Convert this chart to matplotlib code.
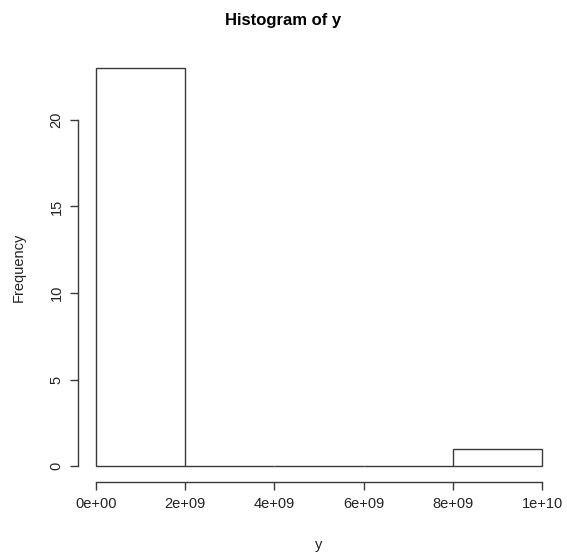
import matplotlib
matplotlib.use("Agg")
import matplotlib.pyplot as plt

bin_edges = [0, 2e9, 4e9, 6e9, 8e9, 1e10]
counts = [23, 0, 0, 0, 1]
x_ticks = [0, 2e9, 4e9, 6e9, 8e9, 1e10]
x_tick_labels = ["0e+00", "2e+09", "4e+09", "6e+09", "8e+09", "1e+10"]
y_ticks = [0, 5, 10, 15, 20]
y_tick_labels = ["0", "5", "10", "15", "20"]

plt.rcParams['font.family'] = ['Liberation Sans', 'DejaVu Sans']

W, H = 567, 552
fig = plt.figure(figsize=(W / 100, H / 100), dpi=100)
ax = fig.add_axes([78 / W, (H - 482) / H, (560 - 78) / W, (482 - 52) / H])

lc = "#3a3a3a"
widths = [bin_edges[i + 1] - bin_edges[i] for i in range(len(counts))]
ax.bar(bin_edges[:-1], counts, width=widths, align="edge",
       facecolor="white", edgecolor=lc, linewidth=1.0)

xr = bin_edges[-1] - bin_edges[0]
ax.set_xlim(bin_edges[0] - 0.04 * xr, bin_edges[-1] + 0.04 * xr)
ymax = max(counts)
ax.set_ylim(-0.04 * ymax, ymax * 1.04)

for s in ["top", "right"]:
    ax.spines[s].set_visible(False)
ax.spines["left"].set_bounds(y_ticks[0], y_ticks[-1])
ax.spines["bottom"].set_bounds(x_ticks[0], x_ticks[-1])
for s in ["left", "bottom"]:
    ax.spines[s].set_color(lc)
    ax.spines[s].set_linewidth(1.0)

fs = 10.5
ax.set_xticks(x_ticks)
ax.set_xticklabels(x_tick_labels, fontsize=fs, color="#222222")
ax.set_yticks(y_ticks)
ax.set_yticklabels(y_tick_labels, fontsize=fs, rotation=90, va="center", color="#222222")
ax.tick_params(axis="both", length=5.5, width=1.0, color=lc, pad=5)

ax.set_xlabel("y", fontsize=fs, labelpad=20, color="#222222")
ax.set_ylabel("Frequency", fontsize=fs, labelpad=17, color="#222222")
fig.suptitle("Histogram of y", fontsize=12, fontweight="bold", y=1 - 20 / H, va="center")

fig.savefig("out.png", dpi=100, facecolor="white")
